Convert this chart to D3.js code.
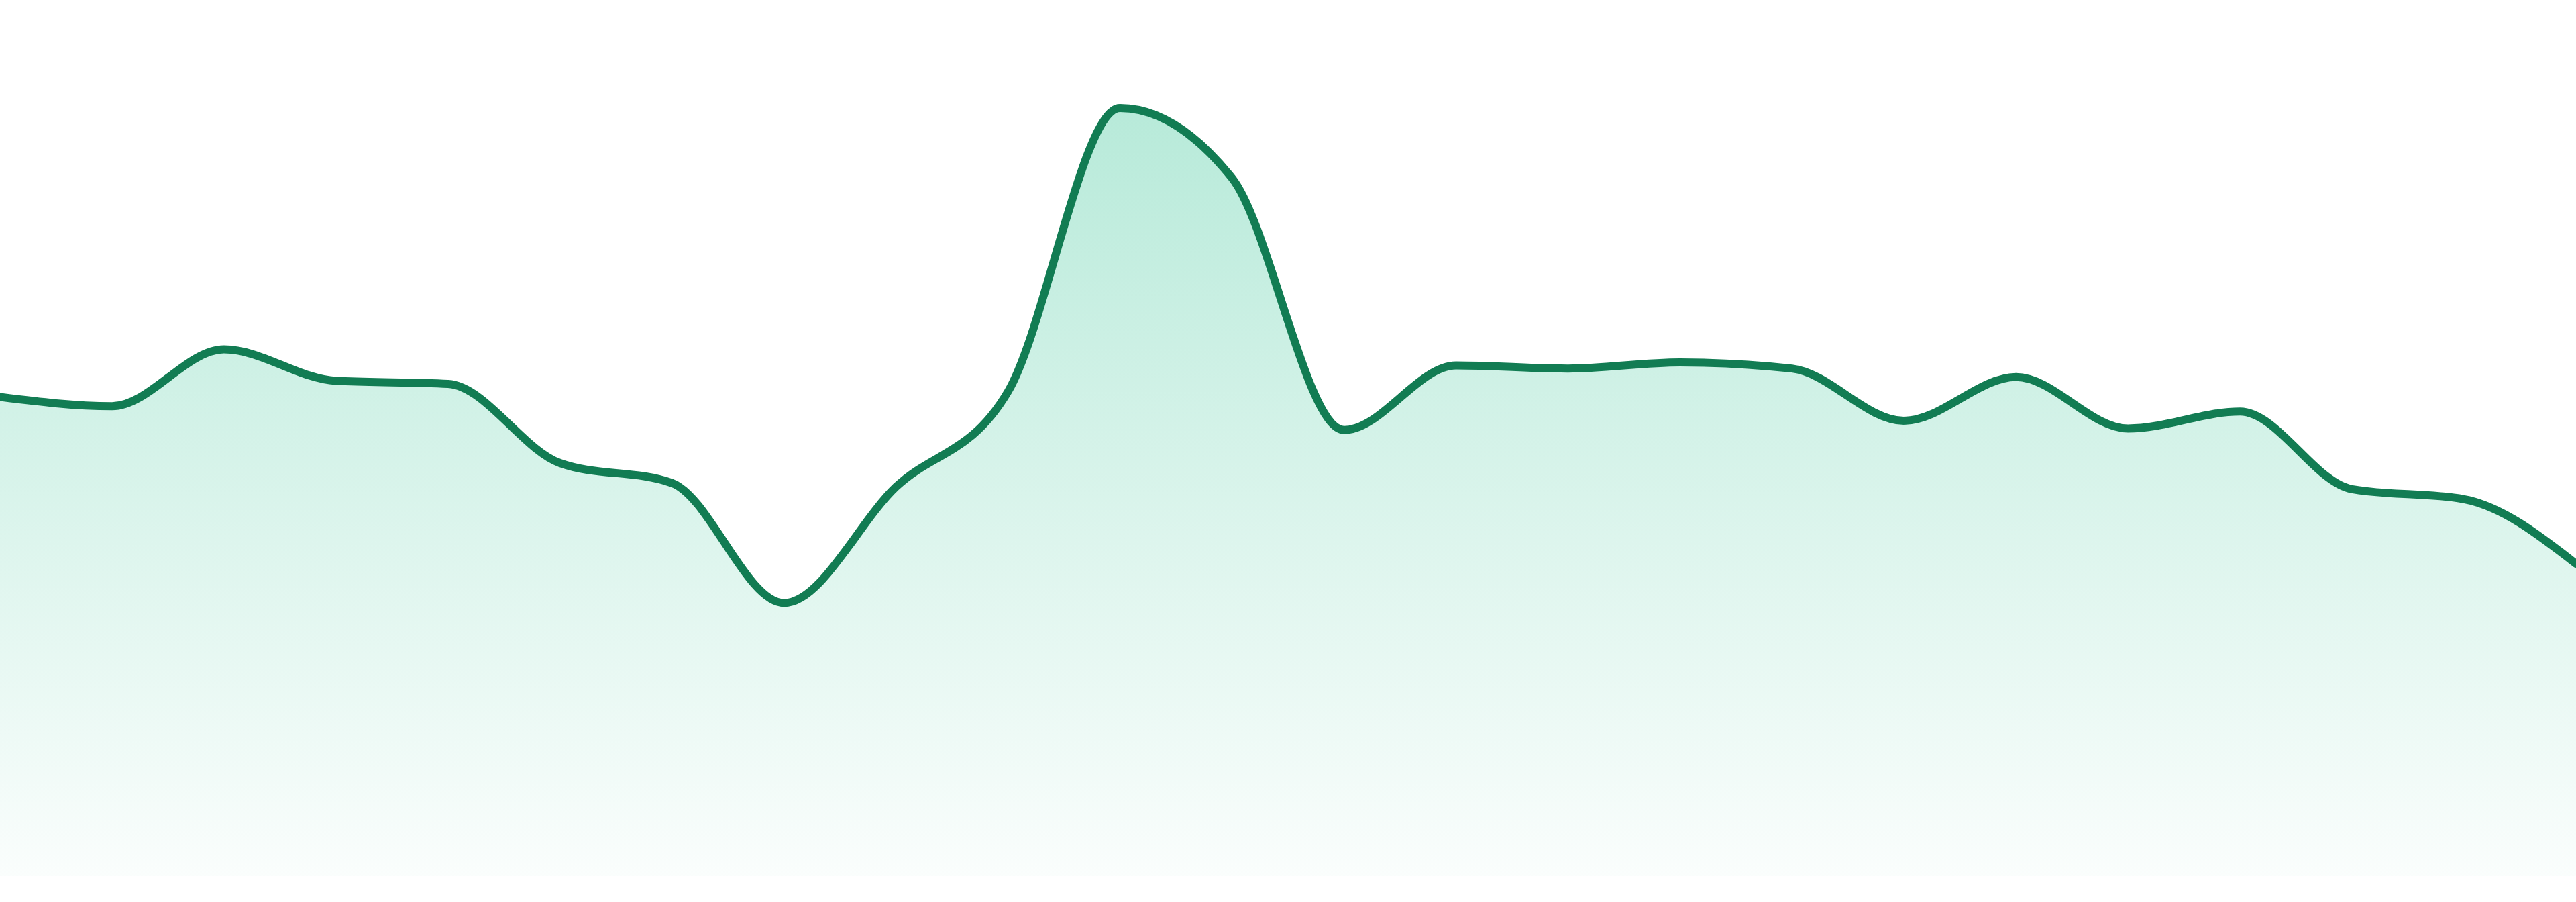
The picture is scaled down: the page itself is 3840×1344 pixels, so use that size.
<!DOCTYPE html>
<html>

<head>
    <meta charset="UTF-8">
    <title>Sparkline Area</title>
    <style>
        html, body {
            margin: 0;
            padding: 0;
            background-color: #ffffff;
            overflow: hidden;
        }

        svg {
            display: block;
        }
    </style>
</head>

<body>
    <svg></svg>

    <script src="https://d3js.org/d3.v7.min.js"></script>

    <script>

        // data (24 points, no axes shown)
        let points = ["P1", "P2", "P3", "P4", "P5", "P6", "P7", "P8", "P9", "P10", "P11", "P12",
            "P13", "P14", "P15", "P16", "P17", "P18", "P19", "P20", "P21", "P22", "P23", "P24"];
        let values = [62.4, 61.2, 68.6, 64.5, 64.1, 53.8, 51.2, 35.6, 50.7, 63.1, 100, 90.9,
            58.1, 66.5, 66.1, 66.9, 66.1, 59.3, 65.0, 58.3, 60.5, 50.4, 49.1, 40.7];
        let yDomain = [0, 100];

        let width = 3840, height = 1344;
        let margin = { top: 161, right: 0, bottom: 38, left: 0 };

        let svg = d3.select("svg")
            .attr("width", width)
            .attr("height", height)
            .attr("viewBox", "0 0 " + width + " " + height);

        let data = points.map((p, i) => ({ key: p, value: values[i] }));

        let x = d3.scalePoint()
            .domain(points)
            .range([margin.left, width - margin.right]);

        let y = d3.scaleLinear()
            .domain(yDomain)
            .range([height - margin.bottom, margin.top]);

        // gradient under the line
        let defs = svg.append("defs");
        let grad = defs.append("linearGradient")
            .attr("id", "areaFill")
            .attr("x1", 0).attr("y1", 0)
            .attr("x2", 0).attr("y2", 1);
        grad.append("stop")
            .attr("offset", "0%")
            .attr("stop-color", "#10b981")
            .attr("stop-opacity", 0.3);
        grad.append("stop")
            .attr("offset", "100%")
            .attr("stop-color", "#10b981")
            .attr("stop-opacity", 0.02);

        let area = d3.area()
            .x(d => x(d.key))
            .y0(y(yDomain[0]))
            .y1(d => y(d.value))
            .curve(d3.curveMonotoneX);

        let line = d3.line()
            .x(d => x(d.key))
            .y(d => y(d.value))
            .curve(d3.curveMonotoneX);

        svg.append("path")
            .datum(data)
            .attr("d", area)
            .attr("fill", "url(#areaFill)");

        svg.append("path")
            .datum(data)
            .attr("d", line)
            .attr("fill", "none")
            .attr("stroke", "#127c53")
            .attr("stroke-width", 12)
            .attr("stroke-linejoin", "round")
            .attr("stroke-linecap", "round");

    </script>

</body>

</html>
